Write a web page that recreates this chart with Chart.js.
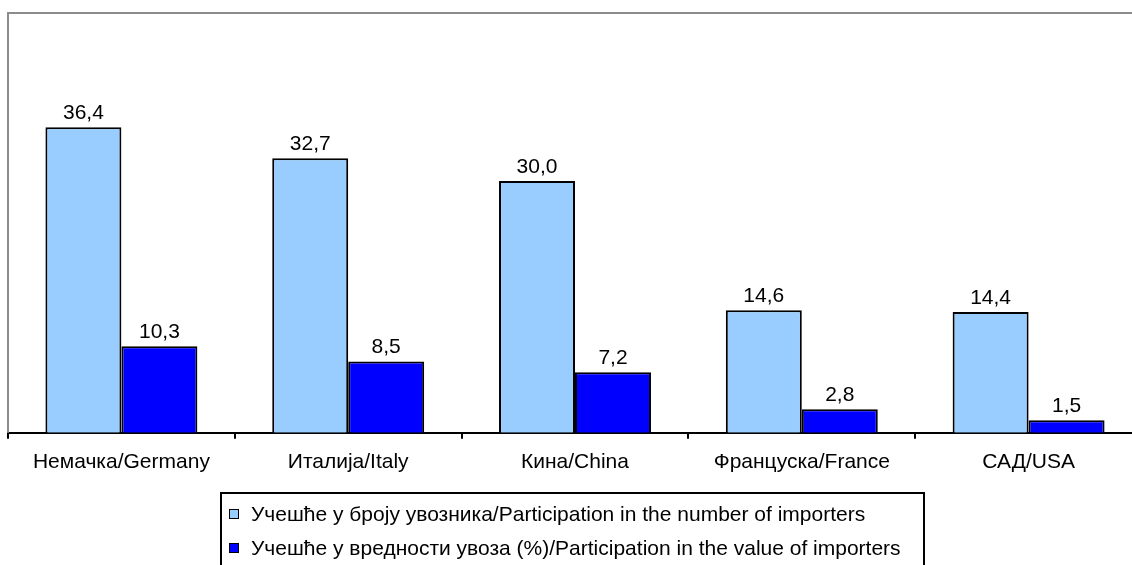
<!DOCTYPE html>
<html>
<head>
<meta charset="utf-8">
<script src="https://cdn.jsdelivr.net/npm/chart.js@4/dist/chart.umd.min.js"></script>
<style>
  html, body { margin: 0; padding: 0; background: #fff; overflow: hidden; }
  #wrap { position: relative; width: 1144px; height: 565px; }
  #legend {
    position: absolute; left: 220px; top: 492px; width: 705px; height: 90px;
    border: 2px solid #000; box-sizing: border-box;
    font-family: "Liberation Sans", Arial, sans-serif; font-size: 21px; color: #000;
  }
  #legend .row { position: absolute; left: 7px; height: 22px; line-height: 22px; white-space: nowrap; }
  #legend .sw { display: inline-block; width: 8px; height: 8px; border: 1.5px solid #000; margin-right: 12px; vertical-align: 2px; }
</style>
</head>
<body>
<div id="wrap">
  <canvas id="c" width="1144" height="565"></canvas>
  <div id="legend"></div>
</div>
<script>
// countries (Serbian / English)
const categories = ['Немачка/Germany', 'Италија/Italy', 'Кина/China', 'Француска/France', 'САД/USA'];
const seriesNames = [
  'Учешће у броју увозника/Participation in the number of importers',
  'Учешће у вредности увоза (%)/Participation in the value of importers'
];
const importersShare = [36.4, 32.7, 30.0, 14.6, 14.4];
const valueShare = [10.3, 8.5, 7.2, 2.8, 1.5];
const colors = ['#99CCFF', '#0000FF'];

const FONT = '"Liberation Sans", Arial, sans-serif';

// value labels above bars, comma decimals
const barLabels = {
  id: 'barLabels',
  afterDatasetsDraw(chart) {
    const ctx = chart.ctx;
    ctx.save();
    ctx.font = '21px ' + FONT;
    ctx.fillStyle = '#000';
    ctx.textAlign = 'center';
    ctx.textBaseline = 'alphabetic';
    chart.data.datasets.forEach((ds, i) => {
      chart.getDatasetMeta(i).data.forEach((bar, j) => {
        ctx.fillText(ds.data[j].toFixed(1).replace('.', ','), bar.x, bar.y - 8);
      });
    });
    ctx.restore();
  }
};

// grey plot-area frame (top + left)
const frame = {
  id: 'frame',
  beforeDatasetsDraw(chart) {
    const a = chart.chartArea, ctx = chart.ctx;
    ctx.save();
    ctx.strokeStyle = '#8c8c8c';
    ctx.lineWidth = 2;
    ctx.beginPath();
    ctx.moveTo(a.left, a.bottom);
    ctx.lineTo(a.left, a.top);
    ctx.lineTo(a.right + 2, a.top);
    ctx.stroke();
    ctx.restore();
  }
};

new Chart(document.getElementById('c'), {
  type: 'bar',
  data: {
    labels: categories,
    datasets: [
      { label: seriesNames[0], data: importersShare, backgroundColor: colors[0], borderColor: '#000', borderWidth: 2 },
      { label: seriesNames[1], data: valueShare, backgroundColor: colors[1], borderColor: '#000', borderWidth: 2 }
    ]
  },
  options: {
    responsive: false,
    animation: false,
    layout: { padding: { left: 8, right: 2, top: 13, bottom: 79 } },
    datasets: { bar: { barPercentage: 1, categoryPercentage: 0.67 } },
    plugins: { legend: { display: false }, tooltip: { enabled: false } },
    scales: {
      y: { display: false, min: 0, max: 50 },
      x: {
        grid: { offset: true, drawOnChartArea: false, drawTicks: true, tickLength: 6, color: '#000', lineWidth: 2 },
        border: { display: true, color: '#000', width: 2 },
        ticks: { color: '#000', font: { family: FONT, size: 21 }, padding: 11, maxRotation: 0 }
      }
    }
  },
  plugins: [barLabels, frame]
});

const lg = document.getElementById('legend');
seriesNames.forEach((name, i) => {
  const row = document.createElement('div');
  row.className = 'row';
  row.style.top = (i === 0 ? 9 : 43) + 'px';
  row.innerHTML = '<span class="sw" style="background:' + colors[i] + '"></span>' + name;
  lg.appendChild(row);
});
</script>
</body>
</html>
